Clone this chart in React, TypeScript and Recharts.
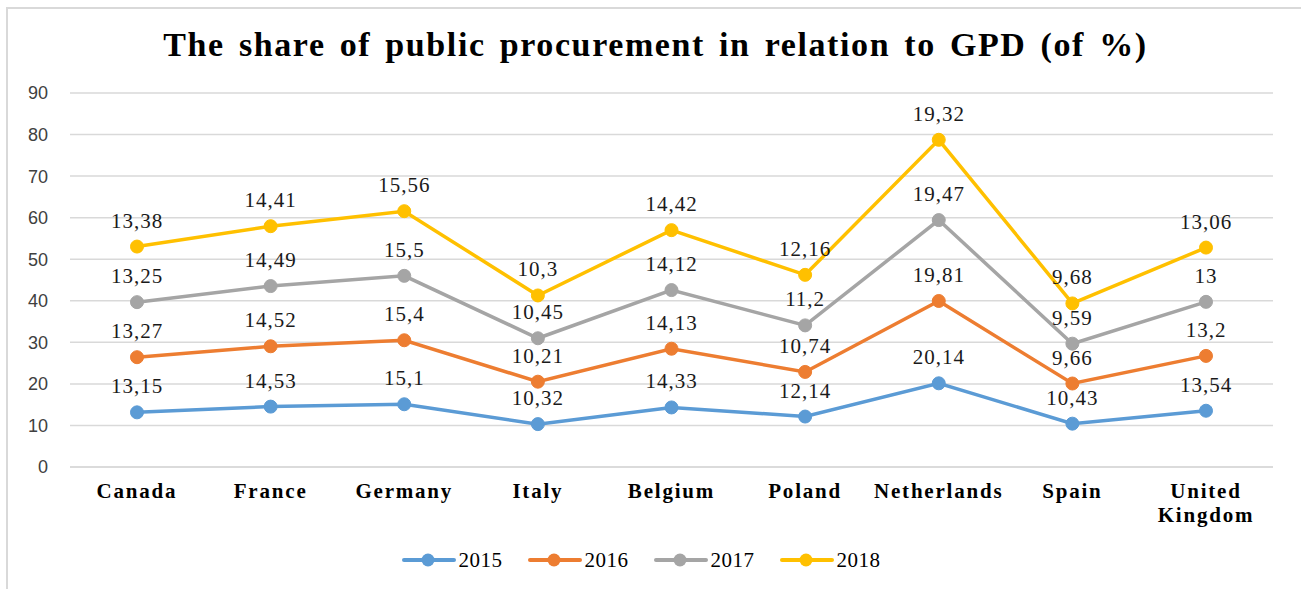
import { CartesianGrid, LabelList, Legend, Line, LineChart, XAxis, YAxis } from 'recharts'

const countries = ['Canada', 'France', 'Germany', 'Italy', 'Belgium', 'Poland', 'Netherlands', 'Spain', 'United Kingdom']
const years = ['2015', '2016', '2017', '2018']
const share2015 = [13.15, 14.53, 15.1, 10.32, 14.33, 12.14, 20.14, 10.43, 13.54]
const share2016 = [13.27, 14.52, 15.4, 10.21, 14.13, 10.74, 19.81, 9.66, 13.2]
const share2017 = [13.25, 14.49, 15.5, 10.45, 14.12, 11.2, 19.47, 9.59, 13]
const share2018 = [13.38, 14.41, 15.56, 10.3, 14.42, 12.16, 19.32, 9.68, 13.06]
const yTicks = [0, 10, 20, 30, 40, 50, 60, 70, 80, 90]
const colors = ['#5B9BD5', '#ED7D31', '#A5A5A5', '#FFC000']

const series = [share2015, share2016, share2017, share2018]

// stacked line chart: each line sits on top of the previous ones
const data = countries.map((name, i) => {
  const row: Record<string, string | number> = { name }
  let sum = 0
  years.forEach((y, s) => {
    sum += series[s][i]
    row['v' + y] = series[s][i]
    row['s' + y] = Math.round(sum * 100) / 100
  })
  return row
})

const serif = '"Liberation Serif", "Times New Roman", serif'

function CountryTick({ x, y, payload }: any) {
  const words = String(payload.value).split(' ')
  return (
    <text
      x={x}
      y={y + 23}
      textAnchor='middle'
      fill='#000'
      fontFamily={serif}
      fontWeight='bold'
      fontSize={21}
      style={{ letterSpacing: 1.8 }}
    >
      {words.map((w, i) => (
        <tspan key={w} x={x} dy={i === 0 ? 0 : 24}>
          {w}
        </tspan>
      ))}
    </text>
  )
}

function YearLegend() {
  return (
    <div
      style={{
        display: 'flex',
        justifyContent: 'center',
        alignItems: 'center',
        height: 30,
        gap: 25,
        paddingRight: 19,
      }}
    >
      {years.map((y, i) => (
        <div key={y} style={{ display: 'flex', alignItems: 'center' }}>
          <svg width={54} height={16}>
            <line x1={2} y1={8} x2={52} y2={8} stroke={colors[i]} strokeWidth={4} strokeLinecap='round' />
            <circle cx={26} cy={8} r={6.5} fill={colors[i]} />
          </svg>
          <span style={{ marginLeft: 3, fontFamily: serif, fontSize: 21, color: '#000', letterSpacing: 0.5 }}>
            {y}
          </span>
        </div>
      ))}
    </div>
  )
}

export default function App() {
  return (
    <div
      style={{
        position: 'absolute',
        left: 0,
        top: 0,
        width: 1301,
        height: 589,
        overflow: 'hidden',
        background: '#fff',
      }}
    >
      <div
        style={{
          position: 'absolute',
          left: 6,
          top: 7,
          width: 1400,
          height: 700,
          border: '2px solid #d9d9d9',
        }}
      />
      <div
        style={{
          position: 'absolute',
          left: 10,
          top: 27,
          width: 1291,
          textAlign: 'center',
          fontFamily: serif,
          fontWeight: 'bold',
          fontSize: 34,
          lineHeight: '36px',
          letterSpacing: 1.6,
          wordSpacing: 4,
          color: '#000',
        }}
      >
        The share of public procurement in relation to GPD (of %)
      </div>
      <LineChart
        width={1301}
        height={589}
        data={data}
        margin={{ top: 93, right: 28, bottom: 32, left: 0 }}
        style={{ position: 'absolute', left: 0, top: 0 }}
      >
        <CartesianGrid vertical={false} stroke='#d9d9d9' strokeWidth={1.5} />
        <XAxis
          dataKey='name'
          interval={0}
          height={60}
          padding={{ left: 67, right: 67 }}
          axisLine={{ stroke: '#d9d9d9', strokeWidth: 1.5 }}
          tickLine={false}
          tick={<CountryTick />}
        />
        <YAxis
          width={70}
          domain={[0, 90]}
          ticks={yTicks}
          axisLine={false}
          tickLine={false}
          tickMargin={16}
          tick={{ fill: '#404040', fontSize: 18, fontFamily: '"Liberation Sans", Arial, sans-serif' }}
        />
        <Legend
          verticalAlign='bottom'
          content={<YearLegend />}
          wrapperStyle={{ left: 0, top: 545, bottom: 'auto', width: 1301 }}
        />
        {years.map((y, i) => (
          <Line
            key={y}
            type='linear'
            dataKey={'s' + y}
            name={y}
            stroke={colors[i]}
            strokeWidth={3.5}
            dot={{ r: 6.5, fill: colors[i], stroke: colors[i], strokeWidth: 1 }}
            activeDot={false}
            isAnimationActive={false}
          >
            <LabelList
              dataKey={'v' + y}
              position='top'
              offset={19}
              fill='#1a1a1a'
              fontSize={21}
              fontFamily={serif}
              style={{ letterSpacing: 1, fontFamily: serif }}
              formatter={(v: any) => String(v).replace('.', ',')}
            />
          </Line>
        ))}
      </LineChart>
    </div>
  )
}
